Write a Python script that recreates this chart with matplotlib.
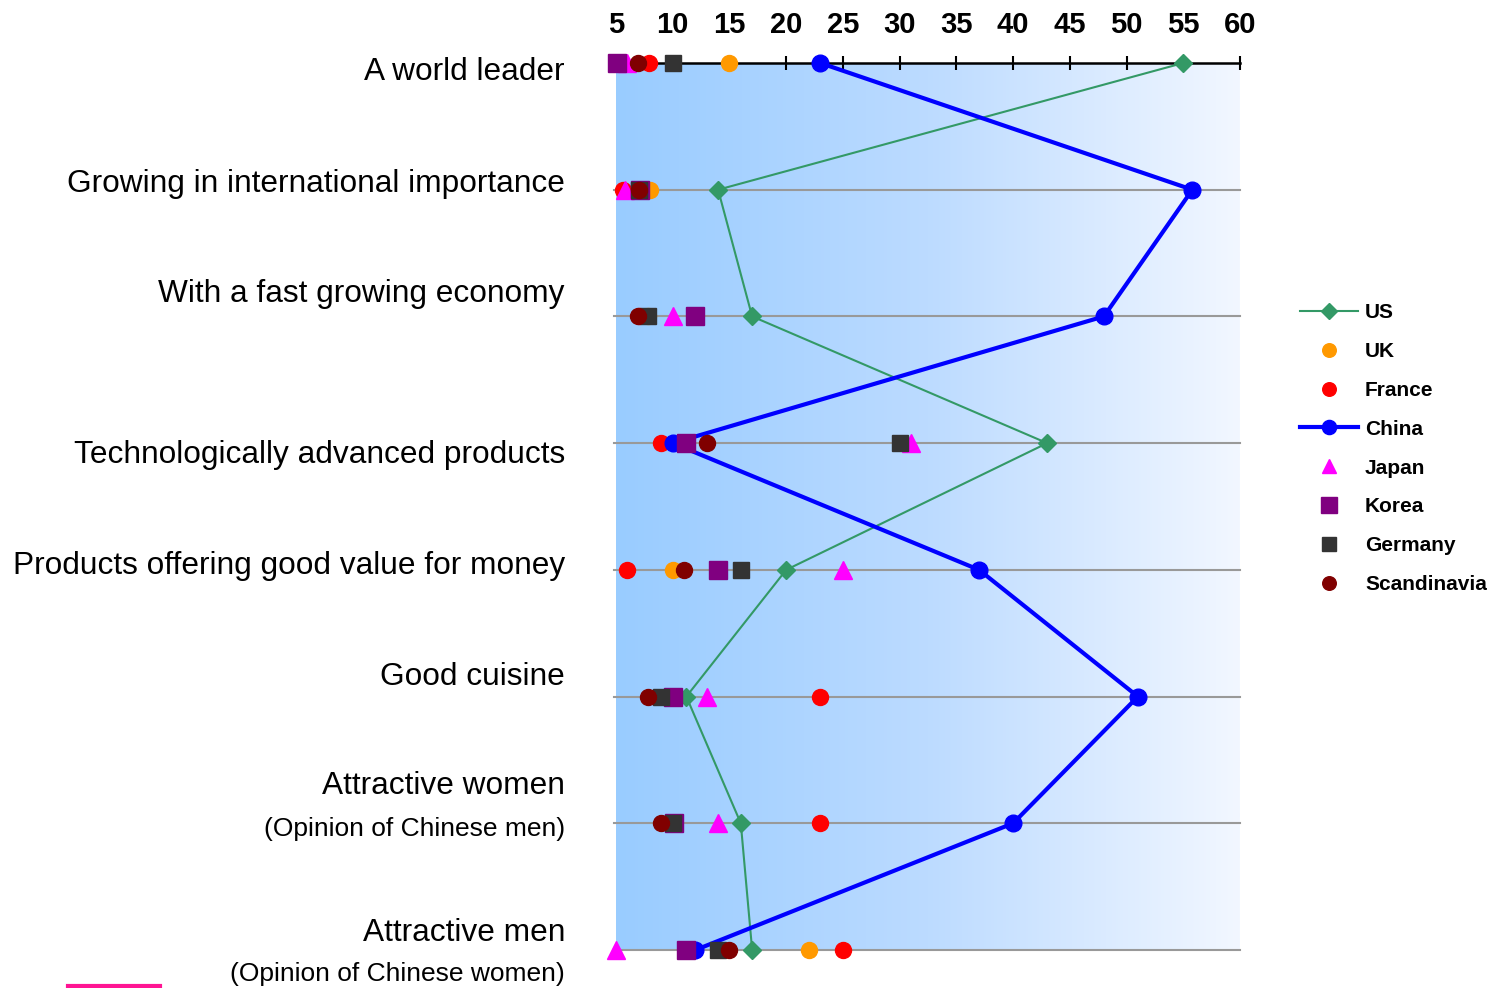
import numpy as np
import matplotlib.pyplot as plt
from matplotlib.lines import Line2D
from matplotlib.colors import LinearSegmentedColormap

plt.rcParams['font.family'] = ['Liberation Sans', 'DejaVu Sans']

# categories (top to bottom)
categories = ["A world leader",
              "Growing in international importance",
              "With a fast growing economy",
              "Technologically advanced products",
              "Products offering good value for money",
              "Good cuisine",
              "Attractive women",
              "Attractive men"]
subtitles = ["", "", "", "", "", "",
             "(Opinion of Chinese men)",
             "(Opinion of Chinese women)"]

# percentages per country, same order as categories
us = [55, 14, 17, 43, 20, 11.2, 16, 17]
uk = [15, 8, 7.8, 11, 10, 9.5, 10, 22]
france = [7.9, 5.6, 7, 9, 6, 23, 23, 25]
china = [23, 55.8, 48, 10, 37, 51, 40, 12]
japan = [6, 5.8, 10, 31, 25, 13, 14, 5]
korea = [5.1, 7.1, 12, 11.2, 14, 10, 10.1, 11.2]
germany = [10, 7, 7.8, 30, 16, 9, 10, 14]
scandinavia = [6.9, 7, 6.9, 13, 11, 7.8, 9, 15]

ticks = list(range(5, 61, 5))

fig = plt.figure(figsize=(15.01, 9.88), dpi=100)
ax = fig.add_axes([616 / 1501, 1 - 950 / 988, 624 / 1501, 887 / 988])

rows = np.arange(len(categories))

# background gradient
grad = np.linspace(0, 1, 256).reshape(1, -1)
cmap = LinearSegmentedColormap.from_list('bg', ['#99CCFF', '#BCDBFF', '#F2F7FF'])
ax.imshow(grad, cmap=cmap, extent=[5, 60, 7, 0], aspect='auto', zorder=0)

for r in rows[1:]:
    ax.plot([4.8, 60], [r, r], color='#999999', lw=1.5, zorder=1, clip_on=False)

ax.plot(us, rows, color='#339966', lw=1.5, marker='D', ms=9.5, label='US', zorder=3, clip_on=False)
ax.plot(uk, rows, ls='none', color='#FF9900', marker='o', ms=11.5, label='UK', zorder=4, clip_on=False)
ax.plot(france, rows, ls='none', color='#FF0000', marker='o', ms=11.5, label='France', zorder=4, clip_on=False)
ax.plot(china, rows, color='#0000FF', lw=3, marker='o', ms=12, label='China', zorder=4, clip_on=False)
ax.plot(japan, rows, ls='none', color='#FF00FF', marker='^', ms=12.5, label='Japan', zorder=5, clip_on=False)
ax.plot(korea, rows, ls='none', color='#800080', marker='s', ms=13, label='Korea', zorder=5, clip_on=False)
ax.plot(germany, rows, ls='none', color='#333333', marker='s', ms=11.5, label='Germany', zorder=5, clip_on=False)
ax.plot(scandinavia, rows, ls='none', color='#800000', marker='o', ms=11.5, label='Scandinavia', zorder=5, clip_on=False)

ax.set_xlim(5, 60)
ax.set_ylim(7, 0)
ax.set_yticks([])
ax.xaxis.tick_top()
ax.set_xticks(ticks)
ax.set_xticklabels([str(t) for t in ticks], fontsize=21, fontweight='bold')
ax.tick_params(axis='x', direction='inout', length=10, width=1.5, pad=12)
for s in ['left', 'right', 'bottom']:
    ax.spines[s].set_visible(False)
ax.spines['top'].set_linewidth(1.8)
ax.spines['top'].set_zorder(2)

# category labels (pixel offsets from the row line)
label_dy = [9, -6, -22, 12, -4, -20, -37, -17]
sub_dy = [0, 0, 0, 0, 0, 0, 6, 24]
for r, name, sub, dy, sdy in zip(rows, categories, subtitles, label_dy, sub_dy):
    ax.annotate(name, xy=(0, r), xycoords=('axes fraction', 'data'),
                xytext=(-51, -dy), textcoords='offset pixels',
                ha='right', va='center', fontsize=22.8, annotation_clip=False)
    if sub:
        ax.annotate(sub, xy=(0, r), xycoords=('axes fraction', 'data'),
                    xytext=(-51, -sdy), textcoords='offset pixels',
                    ha='right', va='center', fontsize=19, annotation_clip=False)

leg = fig.legend(loc='upper left', bbox_to_anchor=(1290 / 1501, 1 - 293 / 988),
                 frameon=False, prop={'size': 15, 'weight': 'bold'},
                 labelspacing=0.95, handlelength=2.75, handletextpad=0.35,
                 borderpad=0, markerscale=0.85)

fig.add_artist(Line2D([68 / 1501, 160 / 1501], [1 - 986 / 988, 1 - 986 / 988],
                      color='#FF1493', lw=3))

fig.savefig('out.png', dpi=100)
